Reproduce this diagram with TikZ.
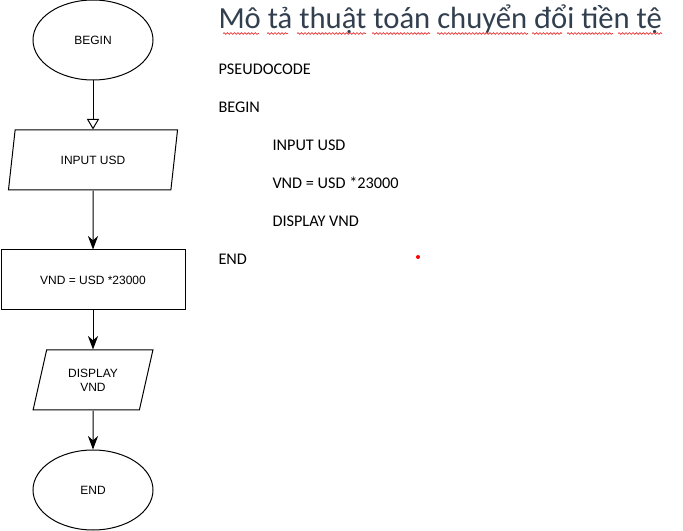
\documentclass[tikz,border=0pt]{standalone}
\usepackage{fontspec}
\setmainfont{Carlito}
\newfontfamily\flowfont{Liberation Sans}
\usetikzlibrary{positioning}
\usetikzlibrary{arrows.meta,shapes.geometric,decorations.pathmorphing}
\definecolor{titlegrey}{RGB}{50,63,79}
\definecolor{squiggle}{RGB}{232,64,64}

\begin{document}
\begin{tikzpicture}[x=0.75pt, y=-0.75pt, line width=0.75pt,
    term/.style={ellipse, draw, minimum width=90pt, minimum height=60pt, inner sep=0pt, font=\flowfont\fontsize{9}{10.5}\selectfont},
    io/.style={trapezium, trapezium left angle=72, trapezium right angle=108, trapezium stretches=true, draw, minimum height=45pt, inner sep=0pt, align=center, font=\flowfont\fontsize{9}{10.5}\selectfont},
    proc/.style={rectangle, draw, minimum width=138pt, minimum height=45pt, inner sep=0pt, font=\flowfont\fontsize{9}{10.5}\selectfont},
    code/.style={anchor=base west, inner sep=0pt, font=\fontsize{12.2}{14}\selectfont},
    ar/.style={-{Stealth[scale=1.6]}}, arw/.style={-{Triangle[open,scale=1.7]}}]
      \useasboundingbox (0,0) rectangle (683,531);

      % flowchart
      \node[term] (1) at (93,40) {BEGIN};
      \node[io, minimum width=127.5pt] (2) [below of=1, node distance=90pt] {INPUT USD};
      \node[proc] (3) [below of=2, node distance=90pt] {VND = USD *23000};
      \node[io, minimum width=90pt] (4) [below of=3, node distance=75pt] {DISPLAY\\VND};
      \node[term] (5) [below of=4, node distance=82.5pt] {END};

      \draw[arw] (1) -- (2);
      \draw[ar] (2) -- (3);
      \draw[ar] (3) -- (4);
      \draw[ar] (4) -- (5);

      % pseudocode
      \node[anchor=base west, inner sep=0pt, text=titlegrey, font=\fontsize{23}{27}\selectfont] (t) at (218,29) {Mô tả thuật toán chuyển đổi tiền tệ};
      \foreach \a/\b in {223/259, 267/288, 297/366, 372/430, 437/528, 532/562, 567/613, 618/662}
        \draw[squiggle, line width=0.6pt, decorate, decoration={snake, amplitude=0.6pt, segment length=2.6pt}] (\a,33.5) -- (\b,33.5);
      \node[code] (p1) at (218,75) {PSEUDOCODE};
      \node[code] (p2) at (218,113) {BEGIN};
      \node[code] (p3) at (272,151) {INPUT USD};
      \node[code] (p4) at (272,189) {VND = USD *23000};
      \node[code] (p5) at (272,227) {DISPLAY VND};
      \node[code] (p6) at (218,265) {END};
      \fill[red] (418,257) circle (1.5pt);
\end{tikzpicture}
\end{document}
